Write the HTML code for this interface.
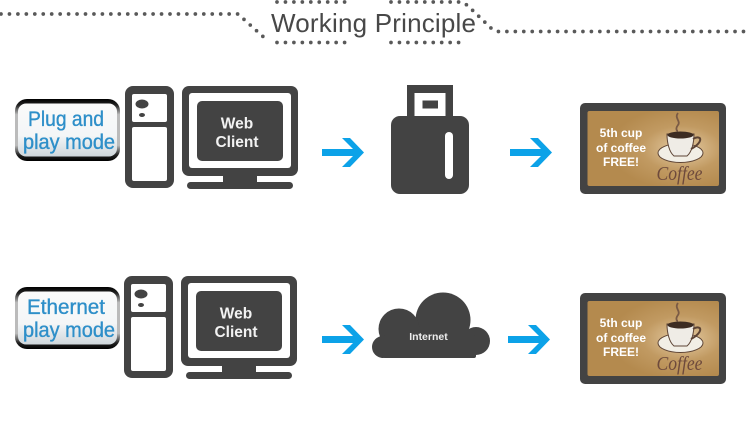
<!DOCTYPE html>
<html><head><meta charset="utf-8"><style>
html,body{margin:0;padding:0;background:#fff}
svg{display:block}
.wc{font:bold 15.500px "Liberation Sans",sans-serif;fill:#f2f2f2;text-anchor:middle}
.bd{font:21px "Liberation Sans",sans-serif;fill:#2e8fc9;stroke:#2e8fc9;stroke-width:.35;text-anchor:middle}
.ad{font:bold 12px "Liberation Sans",sans-serif;fill:#fff;text-anchor:middle}
.cf{font:italic 20px "Liberation Serif",serif;fill:#6e4a3c;text-anchor:middle}
</style></head><body>
<svg width="750" height="435" viewBox="0 0 750 435" xmlns="http://www.w3.org/2000/svg">
<defs>
<linearGradient id="bg" x1="0" y1="0" x2="0" y2="1"><stop offset="0" stop-color="#000"/><stop offset=".1" stop-color="#222"/><stop offset=".25" stop-color="#bbb"/><stop offset=".75" stop-color="#bbb"/><stop offset=".9" stop-color="#222"/><stop offset="1" stop-color="#000"/></linearGradient>
<linearGradient id="bi" x1="0" y1="0" x2="0" y2="1"><stop offset="0" stop-color="#fafafa"/><stop offset=".6" stop-color="#f4f6f7"/><stop offset="1" stop-color="#cfd7dc"/></linearGradient>
<radialGradient id="ag" cx=".72" cy=".5" r=".55"><stop offset="0" stop-color="#e6cda6"/><stop offset=".55" stop-color="#c19a62"/><stop offset="1" stop-color="#b48a4e"/></radialGradient>
</defs>
<g fill="none" stroke="#595959" stroke-width="3.700" stroke-linecap="round" stroke-dasharray="0 8.450">
<path d="M1 14H238L268 41"/>
<path d="M277 2H348"/><path d="M277 42.500H347"/>
<path d="M391 2H461L467 5L492 29L498 31.500H746"/><path d="M391 42.500H461"/>
</g>
<text x="271" y="32" font-family="Liberation Sans,sans-serif" font-size="26" fill="#484848" textLength="205" lengthAdjust="spacing">Working Principle</text>

<g>
<rect x="15" y="99" width="105" height="62" rx="12" fill="url(#bg)"/>
<rect x="18" y="103.500" width="99" height="53" rx="8" fill="url(#bi)"/>
<text class="bd" x="66" y="126" textLength="76" lengthAdjust="spacingAndGlyphs">Plug and</text>
<text class="bd" x="69" y="149" textLength="92" lengthAdjust="spacingAndGlyphs">play mode</text>
</g>
<g>
<rect x="15" y="287" width="105" height="62" rx="12" fill="url(#bg)"/>
<rect x="18" y="291.500" width="99" height="53" rx="8" fill="url(#bi)"/>
<text class="bd" x="66" y="314" textLength="78" lengthAdjust="spacingAndGlyphs">Ethernet</text>
<text class="bd" x="69" y="337" textLength="92" lengthAdjust="spacingAndGlyphs">play mode</text>
</g>

<g>
<rect x="125" y="86" width="49" height="102" rx="8" fill="#434343"/>
<rect x="132" y="94" width="35" height="28" rx="2" fill="#fff"/>
<rect x="132" y="127" width="35" height="54" rx="2" fill="#fff"/>
<ellipse cx="142" cy="104" rx="6.500" ry="4.500" fill="#434343"/><ellipse cx="142" cy="115" rx="3" ry="2" fill="#434343"/>
<rect x="182" y="86" width="116" height="90" rx="7" fill="#434343"/>
<rect x="189" y="93" width="102" height="75" rx="3" fill="#fff"/>
<rect x="197" y="101" width="86" height="60" rx="5" fill="#434343"/>
<rect x="223" y="175" width="34" height="8" fill="#434343"/>
<rect x="187" y="182" width="106" height="7" rx="3.500" fill="#434343"/>
<text class="wc" x="237" y="128.500">Web</text><text class="wc" x="237" y="147">Client</text>
</g>
<g transform="translate(-1,190)">
<rect x="125" y="86" width="49" height="102" rx="8" fill="#434343"/>
<rect x="132" y="94" width="35" height="28" rx="2" fill="#fff"/>
<rect x="132" y="127" width="35" height="54" rx="2" fill="#fff"/>
<ellipse cx="142" cy="104" rx="6.500" ry="4.500" fill="#434343"/><ellipse cx="142" cy="115" rx="3" ry="2" fill="#434343"/>
<rect x="182" y="86" width="116" height="90" rx="7" fill="#434343"/>
<rect x="189" y="93" width="102" height="75" rx="3" fill="#fff"/>
<rect x="197" y="101" width="86" height="60" rx="5" fill="#434343"/>
<rect x="223" y="175" width="34" height="8" fill="#434343"/>
<rect x="187" y="182" width="106" height="7" rx="3.500" fill="#434343"/>
<text class="wc" x="237" y="128.500">Web</text><text class="wc" x="237" y="147">Client</text>
</g>

<g fill="#0ca2e8">
<path id="a1" d="M322 149H353L342 138H350L364 152.500L350 167H342L353 156H322Z"/>
<path d="M510 149H541L530 138H538L552 152.500L538 167H530L541 156H510Z"/>
<path d="M322 336H353L342 325H350L364 339.500L350 354H342L353 343H322Z"/>
<path d="M508 336H539L528 325H536L550 339.500L536 354H528L539 343H508Z"/>
</g>

<rect x="407" y="85" width="46" height="33" fill="#434343"/>
<rect x="414.500" y="93" width="31" height="24" fill="#fff"/>
<rect x="422.500" y="100.500" width="15.500" height="8" fill="#434343"/>
<rect x="391" y="116" width="78" height="78" rx="9" fill="#434343"/>
<rect x="445" y="132" width="8" height="47" rx="4" fill="#fff"/>

<g fill="#434343">
<circle cx="443" cy="320" r="27.500"/><circle cx="399" cy="329" r="20.500"/><circle cx="476" cy="341" r="14"/><circle cx="383" cy="347" r="11"/>
<rect x="383" y="335" width="93" height="23" rx="2"/>
</g>
<text x="428.500" y="340" font-family="Liberation Sans,sans-serif" font-weight="bold" font-size="10.500" fill="#eee" text-anchor="middle">Internet</text>

<g>
<rect x="580" y="103" width="146" height="91" rx="5" fill="#434343"/>
<rect x="587.500" y="111" width="131.500" height="75" rx="2" fill="url(#ag)"/>
<text class="ad" x="621" y="137">5th cup</text><text class="ad" x="621" y="152">of coffee</text><text class="ad" x="621" y="166">FREE!</text>
<path d="M678 113c-4 5 3 8 0 12s-1 6 0 6" fill="none" stroke="#7a5a45" stroke-width="1.800"/>
<ellipse cx="680.500" cy="153" rx="22.500" ry="9.500" fill="#f2efe6" stroke="#5d4435" stroke-width="1"/>
<path d="M667 134h27c0 8-2 18-7 22h-13c-5-4-7-14-7-22z" fill="#efece6" stroke="#5d4435" stroke-width="1"/>
<ellipse cx="680.500" cy="135" rx="13" ry="3.500" fill="#3d2c22"/>
<path d="M693 139c9-5 11 3 -2 10" fill="none" stroke="#5d4435" stroke-width="2"/>
<text class="cf" x="679.500" y="180" textLength="46" lengthAdjust="spacingAndGlyphs">Coffee</text>
</g>
<g transform="translate(0,190)">
<rect x="580" y="103" width="146" height="91" rx="5" fill="#434343"/>
<rect x="587.500" y="111" width="131.500" height="75" rx="2" fill="url(#ag)"/>
<text class="ad" x="621" y="137">5th cup</text><text class="ad" x="621" y="152">of coffee</text><text class="ad" x="621" y="166">FREE!</text>
<path d="M678 113c-4 5 3 8 0 12s-1 6 0 6" fill="none" stroke="#7a5a45" stroke-width="1.800"/>
<ellipse cx="680.500" cy="153" rx="22.500" ry="9.500" fill="#f2efe6" stroke="#5d4435" stroke-width="1"/>
<path d="M667 134h27c0 8-2 18-7 22h-13c-5-4-7-14-7-22z" fill="#efece6" stroke="#5d4435" stroke-width="1"/>
<ellipse cx="680.500" cy="135" rx="13" ry="3.500" fill="#3d2c22"/>
<path d="M693 139c9-5 11 3 -2 10" fill="none" stroke="#5d4435" stroke-width="2"/>
<text class="cf" x="679.500" y="180" textLength="46" lengthAdjust="spacingAndGlyphs">Coffee</text>
</g>
</svg>
</body></html>
